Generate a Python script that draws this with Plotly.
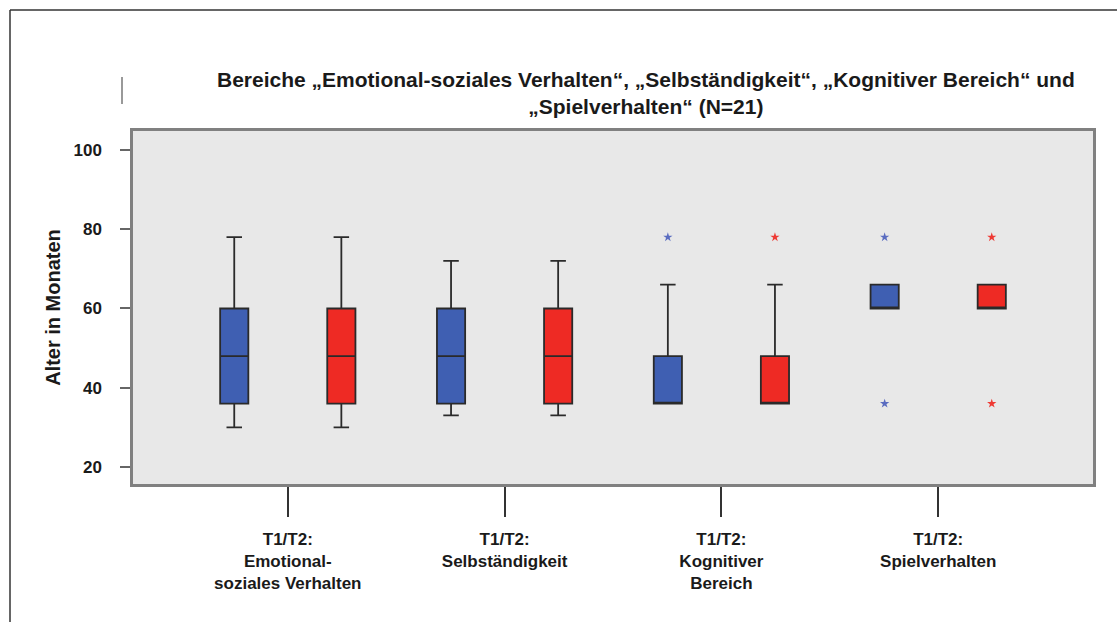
import plotly.graph_objects as go

# ---- data ----
categories = ["T1/T2:<br>Emotional-<br>soziales Verhalten",
              "T1/T2:<br>Selbständigkeit",
              "T1/T2:<br>Kognitiver<br>Bereich",
              "T1/T2:<br>Spielverhalten"]
# T1 (blue) and T2 (red) box statistics per category
t1_low = [30, 33, 36, 60]
t1_q1 = [36, 36, 36, 60]
t1_med = [48, 48, 36, 60]
t1_q3 = [60, 60, 48, 66]
t1_high = [78, 72, 66, 66]
t2_low = [30, 33, 36, 60]
t2_q1 = [36, 36, 36, 60]
t2_med = [48, 48, 36, 60]
t2_q3 = [60, 60, 48, 66]
t2_high = [78, 72, 66, 66]
# outliers (category index, value)
t1_out_cat = [2, 3, 3]
t1_out_val = [78, 78, 36]
t2_out_cat = [2, 3, 3]
t2_out_val = [78, 78, 36]
yticks = [20, 40, 60, 80, 100]

# ---- geometry ----
W, H = 1117, 622
L, R, T, B = 133, 1093, 131, 484
OFF = 0.247
BLUE = "#3f5fb2"
RED = "#ee2a24"

def px(x):
    return (x - L) / (R - L)

def py(y):
    return (B - y) / (B - T)

fig = go.Figure()

def add_boxes(offset, low, q1, med, q3, high, color, name):
    fig.add_trace(go.Box(
        x=[i + offset for i in range(len(categories))],
        lowerfence=low, q1=q1, median=med, q3=q3, upperfence=high,
        fillcolor=color, line=dict(color="#2a2a2a", width=1.8),
        width=0.13, whiskerwidth=0.55, name=name, showlegend=False,
        boxpoints=False,
    ))

add_boxes(-OFF, t1_low, t1_q1, t1_med, t1_q3, t1_high, BLUE, "T1")
add_boxes(OFF, t2_low, t2_q1, t2_med, t2_q3, t2_high, RED, "T2")

fig.add_trace(go.Scatter(
    x=[c - OFF for c in t1_out_cat], y=t1_out_val, mode="markers",
    marker=dict(symbol="star", size=7, color="#5a6cc0"), showlegend=False))
fig.add_trace(go.Scatter(
    x=[c + OFF for c in t2_out_cat], y=t2_out_val, mode="markers",
    marker=dict(symbol="star", size=7, color="#ee3a34"), showlegend=False))

shapes = [
    # outer border (left and top)
    dict(type="line", xref="paper", yref="paper", x0=px(10), x1=px(10),
         y0=py(10), y1=py(630), line=dict(color="#333333", width=1.5)),
    dict(type="line", xref="paper", yref="paper", x0=px(10), x1=px(1125),
         y0=py(10), y1=py(10), line=dict(color="#333333", width=1.5)),
    # small stray vertical mark
    dict(type="line", xref="paper", yref="paper", x0=px(122), x1=px(122),
         y0=py(77), y1=py(104), line=dict(color="#999999", width=2)),
]

fig.update_layout(
    width=W, height=H,
    margin=dict(l=L, r=W - R, t=T, b=H - B),
    paper_bgcolor="white", plot_bgcolor="#e8e8e8",
    font=dict(family="Liberation Sans, Arial, sans-serif", color="#1a1a1a"),
    shapes=shapes,
    annotations=[dict(
        text="<b>Bereiche „Emotional-soziales Verhalten“, „Selbständigkeit“, „Kognitiver Bereich“ und<br>„Spielverhalten“ (N=21)</b>",
        xref="paper", yref="paper", x=px(646), y=py(93), xanchor="center", yanchor="middle",
        showarrow=False, font=dict(size=21, color="#1a1a1a"))],
)

fig.update_xaxes(
    range=[-0.714, 3.714], tickmode="array",
    tickvals=list(range(len(categories))),
    ticktext=["<b>" + c + "</b>" for c in categories],
    ticks="outside", ticklen=30, tickcolor="#333333", tickwidth=1.5,
    tickfont=dict(size=17, color="#1a1a1a"),
    showline=True, linecolor="#808080", linewidth=2.5, mirror=True,
    showgrid=False, zeroline=False, ticklabelstandoff=8,
)
fig.update_yaxes(
    range=[15.7, 104.8], tickmode="array", tickvals=yticks,
    ticktext=["<b>%d</b>" % v for v in yticks],
    ticks="outside", ticklen=10, tickcolor="#666666", tickwidth=1.5,
    tickfont=dict(size=17, color="#1a1a1a"),
    showline=True, linecolor="#808080", linewidth=2.5, mirror=True,
    showgrid=False, zeroline=False, ticklabelstandoff=15,
    title=dict(text="<b>Alter in Monaten</b>", font=dict(size=20, color="#1a1a1a"), standoff=8),
)

fig.write_html("out.html")
